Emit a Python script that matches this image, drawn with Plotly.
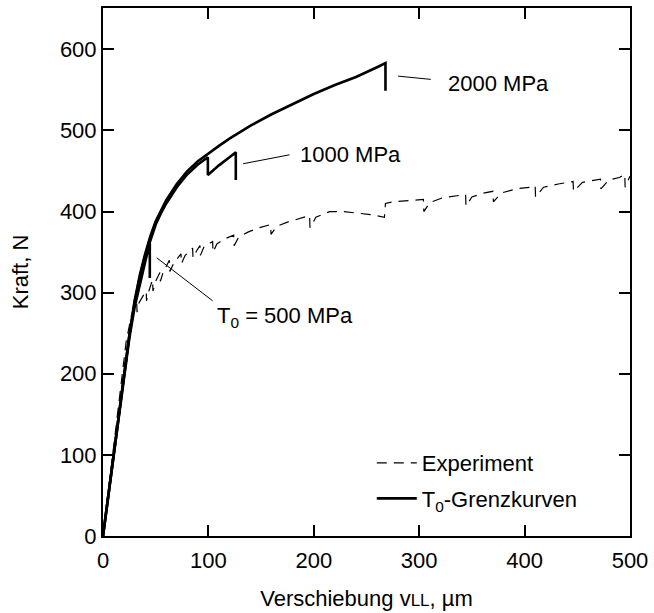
import plotly.graph_objects as go

# ---- data ----
# T0-Grenzkurve 2000 MPa
c2000_x = [0, 5, 10, 15, 20, 25, 30, 35, 40, 45, 50, 55, 60, 70, 80, 90, 100, 110, 120, 140, 160, 180, 200, 220, 240, 260, 268, 268]
c2000_y = [0, 50, 100, 150, 200, 248, 290, 322, 348, 370, 388, 402, 414, 434, 450, 462, 472, 481, 490, 506, 520, 533, 545, 556, 566, 578, 583, 549]
# T0-Grenzkurve 1000 MPa
c1000_x = [0, 5, 10, 15, 20, 25, 30, 35, 40, 45, 50, 55, 60, 70, 80, 90, 99.5, 99.5, 110, 120, 126, 126]
c1000_y = [0, 50, 100, 150, 200, 247, 288, 320, 345, 366, 384, 398, 410, 430, 446, 458, 467, 445, 457, 467, 473, 439]
# T0-Grenzkurve 500 MPa
c500_x = [0, 5, 10, 15, 20, 25, 30, 35, 40, 44.4, 44.4]
c500_y = [0, 50, 100, 150, 198, 244, 282, 312, 338, 361, 318]
# Experiment
exp_x = [0, 8, 16, 22, 27, 32, 32.3, 34, 38, 41, 41.3, 43, 47, 47.4, 50, 54, 54.4, 57, 63, 63.4, 67,
         74, 74.4, 78, 85, 85.4, 89, 92, 92.4, 96, 104, 104.4, 108, 115, 124, 124.4, 129, 138, 148,
         159, 159.4, 165, 175, 186, 196, 196.4, 202, 215, 228, 242, 255, 267, 268, 275, 288, 300,
         304, 304.4, 310, 322, 335, 344, 344.4, 350, 362, 370, 370.4, 378, 392, 405, 410, 410.4,
         418, 432, 446, 446.4, 455, 468, 472, 472.4, 480, 490, 495, 495.4, 500]
exp_y = [0, 85, 170, 240, 272, 288, 276, 287, 296, 302, 290, 300, 316, 302, 314, 325, 314, 325, 340, 326, 336,
         348, 336, 346, 355, 343, 352, 358, 346, 357, 363, 350, 360, 366, 371, 358, 369, 375, 380,
         384, 372, 382, 387, 391, 395, 380, 393, 400, 400, 398, 396, 393, 410, 412, 413, 414,
         415, 400, 411, 417, 419, 421, 407, 418, 423, 425, 412, 423, 428, 430, 432, 418,
         430, 434, 437, 425, 436, 439, 440, 428, 439, 442, 446, 430, 444]

# annotations: label text, anchor (data), leader line start/end (data)
labels = ["2000 MPa", "1000 MPa", "T<sub>0</sub> = 500 MPa"]
label_x = [325, 185, 106]
label_y = [558, 470, 270]
lead_x0 = [280, 133, 51]
lead_y0 = [567, 459, 343]
lead_x1 = [311, 177, 104]
lead_y1 = [563, 470, 290]

FONT = "Liberation Sans, Arial, sans-serif"
FS = 22

fig = go.Figure()
fig.add_trace(go.Scatter(x=exp_x, y=exp_y, mode="lines", name="Experiment",
                         line=dict(color="black", width=1.2, dash="10px,7px"), legendgroup="a"))
fig.add_trace(go.Scatter(x=c2000_x, y=c2000_y, mode="lines", name="T<sub>0</sub>-Grenzkurven",
                         line=dict(color="black", width=2.6), legendgroup="b"))
fig.add_trace(go.Scatter(x=c1000_x, y=c1000_y, mode="lines", showlegend=False,
                         line=dict(color="black", width=2.6)))
fig.add_trace(go.Scatter(x=c500_x, y=c500_y, mode="lines", showlegend=False,
                         line=dict(color="black", width=2.6)))

for t, tx, ty, x0, y0, x1, y1 in zip(labels, label_x, label_y, lead_x0, lead_y0, lead_x1, lead_y1):
    fig.add_shape(type="line", x0=x0, y0=y0, x1=x1, y1=y1, xref="x", yref="y",
                  line=dict(color="black", width=1))
    fig.add_annotation(x=tx, y=ty, text=t, showarrow=False, xanchor="left", yanchor="middle",
                       font=dict(family=FONT, size=FS, color="black"))

axis_common = dict(showline=True, linewidth=2, linecolor="black", mirror="ticks",
                   ticks="inside", ticklen=11, tickwidth=2, tickcolor="black",
                   showgrid=False, zeroline=False,
                   tickfont=dict(family=FONT, size=FS, color="black"))

fig.update_layout(
    width=654, height=613,
    margin=dict(l=103, r=22, t=6, b=77),
    paper_bgcolor="white", plot_bgcolor="white",
    font=dict(family=FONT, size=FS, color="black"),
    xaxis=dict(range=[0, 500], dtick=100, tick0=0, ticklabelstandoff=4,
               title=dict(text='Verschiebung v<span style="font-size:17px">LL</span>, µm',
                          font=dict(family=FONT, size=FS), standoff=18),
               **axis_common),
    yaxis=dict(range=[0, 651], dtick=100, tick0=0,
               title=dict(text="Kraft, N", font=dict(family=FONT, size=FS), standoff=25),
               **axis_common),
    legend=dict(x=0.51, y=0.178, xanchor="left", yanchor="top", bgcolor="rgba(0,0,0,0)",
                font=dict(family=FONT, size=FS), tracegroupgap=4, itemwidth=40),
    showlegend=True,
)

fig.write_html("out.html", config={"displayModeBar": False},
               post_script="document.body.style.margin='0';")
